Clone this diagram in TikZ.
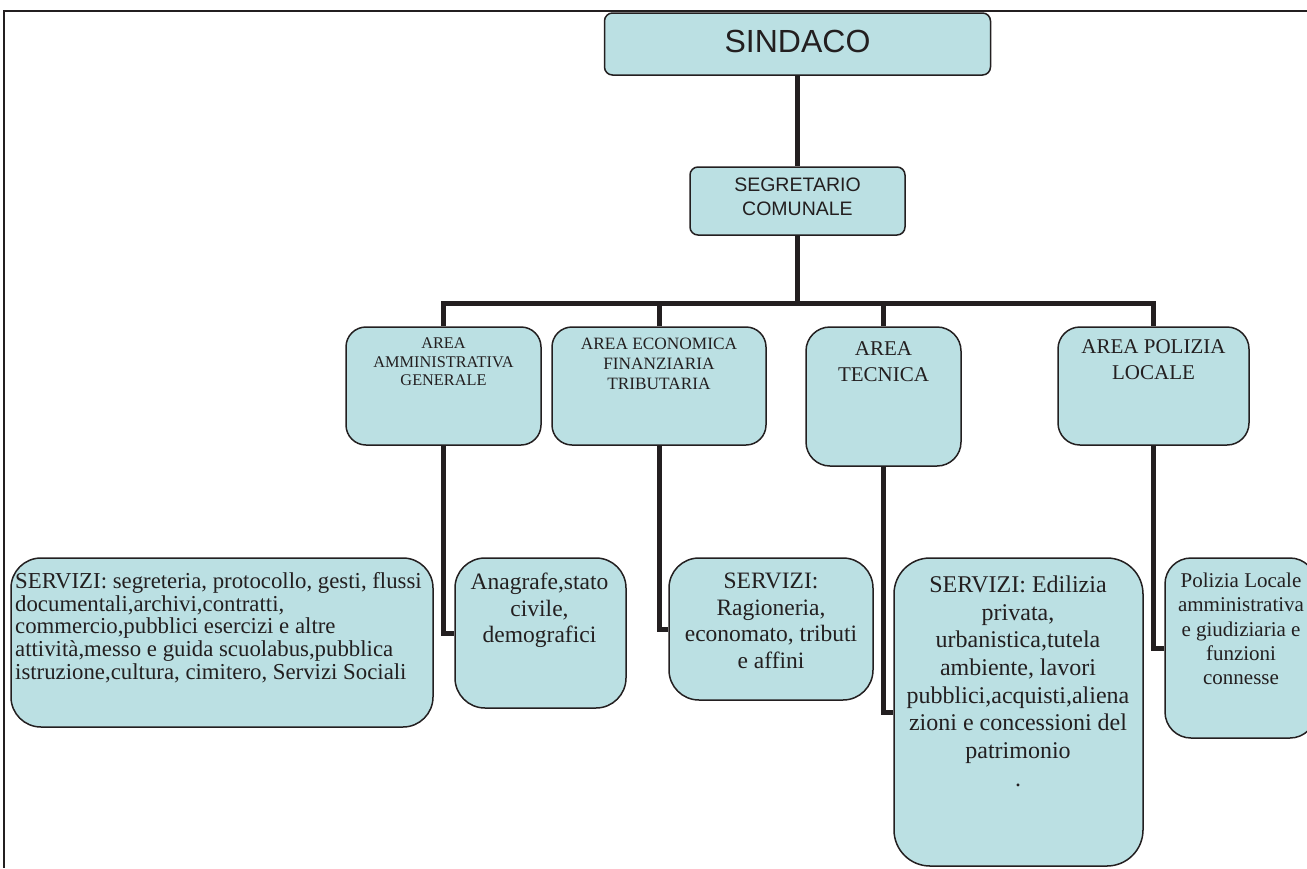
\documentclass[tikz,border=0pt]{standalone}
\usepackage{fontspec}
\setmainfont{Liberation Serif}
\newfontfamily\arialf{Liberation Sans}
\definecolor{boxfill}{HTML}{BBE0E3}
\definecolor{ink}{HTML}{231F20}
\begin{document}
\begin{tikzpicture}[x=1pt,y=-1pt,
  box/.style={draw=ink, line width=1.5pt, fill=boxfill, inner sep=0pt, rounded corners=#1},
  box/.default=20pt,
  conn/.style={draw=ink, line width=5pt},
  txt/.style={text=ink, inner sep=0pt, align=center, anchor=north},
  frame/.style={draw=ink, line width=1.6pt}]
\useasboundingbox (0,0) rectangle (1307,868);
% frame
\coordinate (ftl) at (4,11);
\coordinate (ftr) at (1307,11);
\coordinate (fbl) at (4,868);
\draw[frame] (ftr) -- (ftl) -- (fbl);
% boxes
\node[box=8pt, minimum width=386pt, minimum height=62pt] (sindaco) at (797.5,44) {};
\node[box=8pt, minimum width=215pt, minimum height=68pt] (seg) at (797.5,201) {};
\node[box=20pt, minimum width=195pt, minimum height=118pt] (amm) at (443.5,386) {};
\node[box=20pt, minimum width=214pt, minimum height=118pt] (econ) at (659,386) {};
\node[box=24pt, minimum width=155pt, minimum height=139pt] (tec) at (883.5,396.5) {};
\node[box=22pt, minimum width=191pt, minimum height=118pt] (pol) at (1153.5,386) {};
\node[box=30pt, minimum width=422pt, minimum height=169pt] (serv) at (222,642.5) {};
\node[box=30pt, minimum width=171pt, minimum height=150pt] (anag) at (540.5,633) {};
\node[box=30pt, minimum width=204pt, minimum height=142pt] (rag) at (771,629) {};
\node[box=36pt, minimum width=249pt, minimum height=308pt] (edil) at (1018.5,712) {};
\node[box=26pt, minimum width=151pt, minimum height=180pt] (polloc) at (1240.5,648) {};
% connectors
\coordinate (bar) at (797.5,303);
\draw[conn] (sindaco.south) -- (seg.north);
\draw[conn] (seg.south) -- (bar);
\draw[conn] (amm.north) |- (pol.north |- bar) -- (pol.north);
\draw[conn] (econ.north) -- (econ.north |- bar);
\draw[conn] (tec.north) -- (tec.north |- bar);
\draw[conn] (amm.south) |- (anag.west);
\draw[conn] (econ.south) |- (rag.west);
\draw[conn] (tec.south) |- (edil.west);
\draw[conn] (pol.south) |- (polloc.west);
% texts
\node[txt, anchor=base, font=\arialf\fontsize{32}{36}\selectfont] (tsindaco) at (797.5,52) {SINDACO};
\node[txt, anchor=center, font=\arialf\fontsize{19.5}{23.5}\selectfont] (tseg) at (797.5,197) {SEGRETARIO\\COMUNALE};
\node[txt, font=\fontsize{16.3}{18.5}\selectfont] (tamm) at (443.5,338) {AREA\\AMMINISTRATIVA\\GENERALE};
\node[txt, font=\fontsize{17.3}{20}\selectfont] (tecon) at (659,338.2) {AREA ECONOMICA\\FINANZIARIA\\TRIBUTARIA};
\node[txt, font=\fontsize{21}{26}\selectfont] (ttec) at (883.5,341) {AREA\\TECNICA};
\node[txt, font=\fontsize{21}{26}\selectfont] (tpol) at (1153.5,339) {AREA POLIZIA\\LOCALE};
\node[txt, anchor=north west, align=left, font=\fontsize{22.8}{22.8}\selectfont] (tserv) at (15,572) {SERVIZI: segreteria, protocollo, gesti, flussi\\documentali,archivi,contratti,\\commercio,pubblici esercizi e altre\\attività,messo e guida scuolabus,pubblica\\istruzione,cultura, cimitero, Servizi Sociali};
\node[txt, font=\fontsize{23.5}{26.5}\selectfont] (tanag) at (539.5,573) {Anagrafe,stato\\civile,\\demografici};
\node[txt, font=\fontsize{23.5}{26.5}\selectfont] (trag) at (771,573) {SERVIZI:\\Ragioneria,\\economato, tributi\\e affini};
\node[txt, font=\fontsize{24}{27.7}\selectfont] (tedil) at (1018,575.5) {SERVIZI: Edilizia\\privata,\\urbanistica,tutela\\ambiente, lavori\\pubblici,acquisti,aliena\\zioni e concessioni del\\patrimonio\\.};
\node[txt, font=\fontsize{21}{24.2}\selectfont] (tpolloc) at (1241,573) {Polizia Locale\\amministrativa\\e giudiziaria e\\funzioni\\connesse};
\end{tikzpicture}
\end{document}
